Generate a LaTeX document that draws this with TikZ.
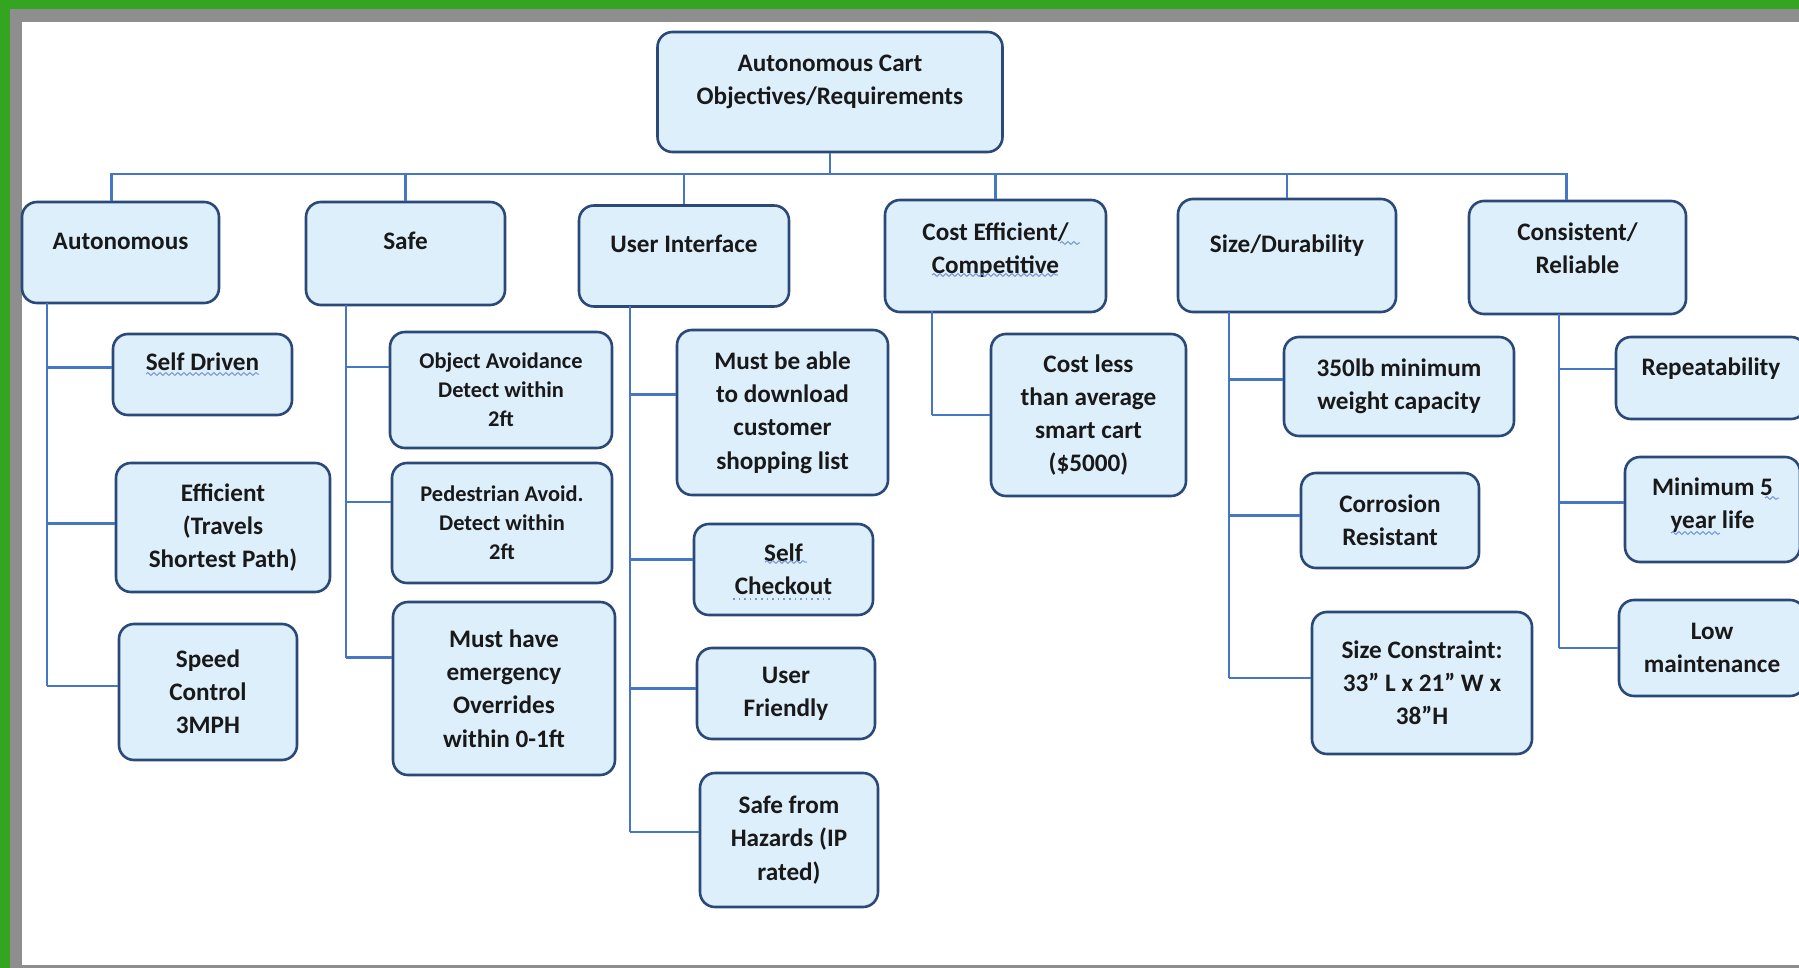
\documentclass[tikz,border=0pt]{standalone}
\usepackage{fontspec}
\setmainfont{Carlito}
\usetikzlibrary{decorations.pathmorphing}

\definecolor{boxfill}{RGB}{222,239,252}
\definecolor{boxline}{RGB}{42,72,120}
\definecolor{linkblue}{RGB}{70,118,198}
\definecolor{framegreen}{RGB}{52,165,32}
\definecolor{framegrey}{RGB}{142,142,142}
\definecolor{spellblue}{RGB}{120,150,210}

\tikzset{
  box/.style={draw=boxline, fill=boxfill, line width=1.3pt, rounded corners=7.5pt, align=center, inner sep=0pt,
    font=\bfseries\fontsize{12.6}{16.6}\selectfont, text=black!90},
  smallbox/.style={box, font=\bfseries\fontsize{11.2}{14.6}\selectfont},
  link/.style={draw=linkblue, line width=1.15pt},
  wavy/.style={draw=spellblue, line width=0.5pt, decorate, decoration={snake, segment length=3pt, amplitude=0.7pt}},
  lift/.style={text depth=#1},
}

\begin{document}
\begin{tikzpicture}[x=0.5pt,y=0.5pt,yscale=-1,xscale=1]
%Frame
\useasboundingbox (0,0) rectangle (1799,968);
\fill [framegreen] (0,0) rectangle (1799,968);
\fill [framegrey] (10,9) rectangle (1799,968);
\fill [white] (22,22) rectangle (1799,965);

%Shape: Root
\node [box, lift=12pt, minimum width=172.5pt, minimum height=60pt] (root) at (830,92) {Autonomous Cart\\Objectives/Requirements};

%Shape: Objectives
\node [box, lift=11.4pt, minimum width=98.5pt, minimum height=50.5pt] (auto) at (120.5,252.5) {Autonomous};
\node [box, lift=13pt, minimum width=99.5pt, minimum height=51.5pt] (safe) at (405.5,253.5) {Safe};
\node [box, lift=12.4pt, minimum width=105pt, minimum height=50.5pt] (ui) at (684,256) {User Interface};
\node [box, lift=8pt, minimum width=110.5pt, minimum height=56pt] (cost) at (995.5,256) {Cost Efficient/\\Competitive};
\node [box, lift=11.8pt, minimum width=109pt, minimum height=56.5pt] (sizedur) at (1287,255.5) {Size/Durability};
\node [box, lift=9pt, minimum width=108.5pt, minimum height=56.5pt] (cons) at (1577.5,257.5) {Consistent/\\Reliable};

%Shape: Requirements
\node [box, lift=12.4pt, minimum width=89.5pt, minimum height=40.5pt] (selfdrv) at (202.5,374.5) {Self Driven};
\node [box, minimum width=107pt, minimum height=64.5pt] (effic) at (223,527.5) {Efficient\\(Travels\\Shortest Path)};
\node [box, minimum width=89pt, minimum height=68pt] (speed) at (208,692) {Speed\\Control\\3MPH};

\node [smallbox, minimum width=111pt, minimum height=58pt] (objav) at (501,390) {Object Avoidance\\Detect within\\2ft};
\node [smallbox, minimum width=110pt, minimum height=60pt] (pedav) at (502,523) {Pedestrian Avoid.\\Detect within\\2ft};
\node [box, minimum width=111pt, minimum height=86.5pt] (mustem) at (504,688.5) {Must have\\emergency\\Overrides\\within 0-1ft};

\node [box, minimum width=105.5pt, minimum height=82.5pt] (download) at (782.5,412.5) {Must be able\\to download\\customer\\shopping list};
\node [box, minimum width=89.5pt, minimum height=45.5pt] (checkout) at (783.5,569.5) {Self\\Checkout};
\node [box, minimum width=89pt, minimum height=45.5pt] (friendly) at (786,693.5) {User\\Friendly};
\node [box, minimum width=89pt, minimum height=67pt] (hazard) at (789,840) {Safe from\\Hazards (IP\\rated)};

\node [box, minimum width=97.5pt, minimum height=81pt] (costless) at (1088.5,415) {Cost less\\than average\\smart cart\\(\$5000)};

\node [box, minimum width=115pt, minimum height=49.5pt] (weight) at (1399,386.5) {350lb minimum\\weight capacity};
\node [box, minimum width=89pt, minimum height=47.5pt] (corros) at (1390,520.5) {Corrosion\\Resistant};
\node [box, minimum width=110pt, minimum height=71pt] (sizecon) at (1422,683) {Size Constraint:\\33” L x 21” W x\\38”H};

\node [box, lift=11.4pt, minimum width=95pt, minimum height=41pt] (repeat) at (1711,378) {Repeatability};
\node [box, lift=6pt, minimum width=87.5pt, minimum height=52.5pt] (minlife) at (1712.5,509.5) {Minimum 5\\year life};
\node [box, minimum width=93pt, minimum height=48pt] (lowmaint) at (1712,648) {Low\\maintenance};

%Straight Lines: bus
\coordinate (bus) at (832,174);
\draw [link] (root.south) -- (root.south |- bus);
\draw [link] ([xshift=-4.5pt]auto.north) |- (bus) -| ([xshift=-5.5pt]cons.north);
\foreach \n in {safe,ui,cost,sizedur}
  \draw [link] (\n.north) -- (\n.north |- bus);

%Straight Lines: trunks
\coordinate (autoT) at (47,303);   \coordinate (autoB) at (47,686);
\coordinate (safeT) at (346,305);  \coordinate (safeB) at (346,657.5);
\coordinate (uiT) at (630,306);    \coordinate (uiB) at (630,832);
\coordinate (costT) at (932,311);  \coordinate (costB) at (932,415);
\coordinate (sizeT) at (1229,312); \coordinate (sizeB) at (1229,678);
\coordinate (consT) at (1559,314); \coordinate (consB) at (1559,648);
\foreach \t in {auto,safe,ui,cost,size,cons}
  \draw [link] (\t T) -- (\t B);

%Straight Lines: branches
\foreach \n/\t/\d in {selfdrv/autoT/-7, effic/autoT/-4, speed/autoT/-6,
    objav/safeT/-23, pedav/safeT/-21, mustem/safeT/-31,
    download/uiT/-18, checkout/uiT/-10, friendly/uiT/-5, hazard/uiT/-8,
    costless/costT/0,
    weight/sizeT/-7, corros/sizeT/-5, sizecon/sizeT/-5,
    repeat/consT/-9, minlife/consT/-7, lowmaint/consT/0}
  \draw [link] (\n.west) ++(0,\d) coordinate (tmp) -- (tmp -| \t);

%Spell check marks
\draw [wavy] (146,374) -- (259,374);
\draw [wavy] (1060,243) -- (1080,243);
\draw [wavy] (932,275) -- (1058,275);
\draw [wavy] (765,562) -- (807,562);
\draw [spellblue, line width=0.8pt, dotted] (733,599) -- (833,599);
\draw [wavy] (1765,498) -- (1779,498);
\draw [wavy] (1671,533) -- (1720,533);

\end{tikzpicture}
\end{document}
